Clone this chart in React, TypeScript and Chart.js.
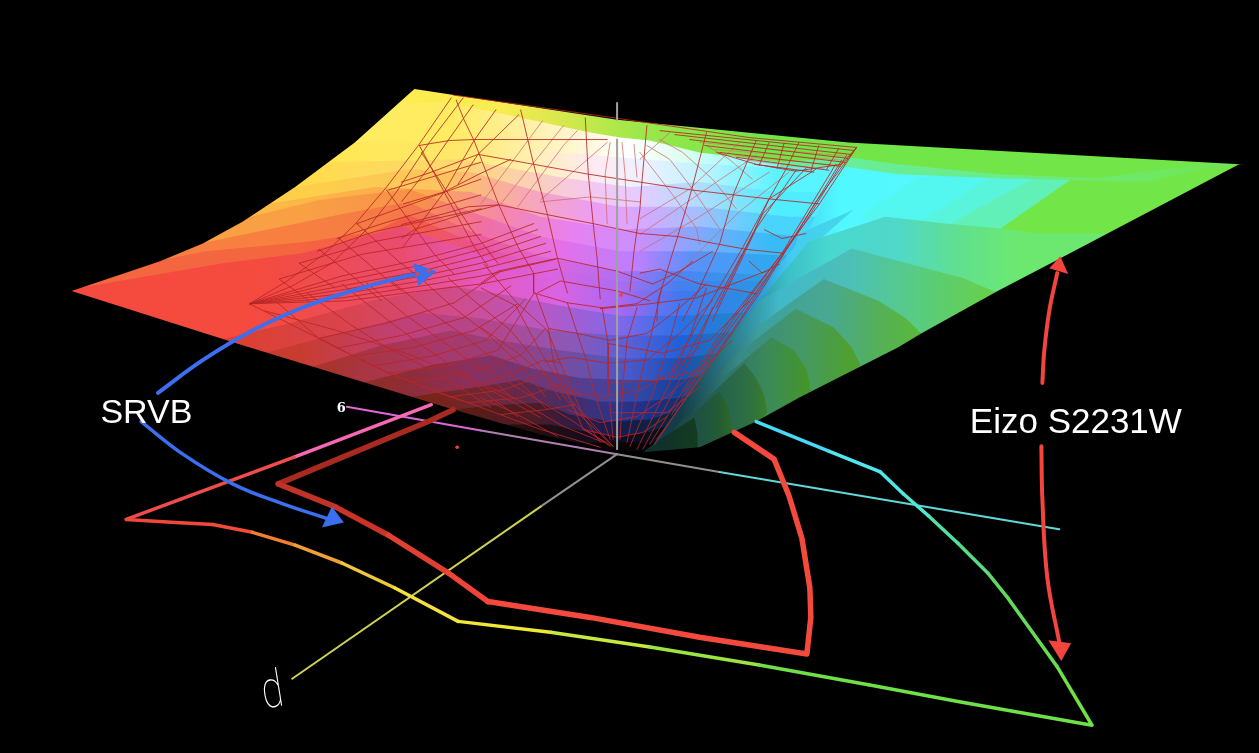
import React, { useEffect, useRef } from "react";
import { Chart, registerables } from "chart.js";

Chart.register(...registerables);

type P = [number, number];
type Tint = [number, string];

// ---- shaded surface of the Eizo S2231W gamut: iso-lightness contours, top to bottom
const contourTops: P[][] = [
  [[0, 0], [1259, 0]],
  [[0, 100], [450, 100], [520, 115], [590, 130], [620, 135], [650, 138], [700, 150], [780, 160], [1259, 160]],
  [[0, 210], [353, 140], [460, 138], [560, 150], [620, 155], [680, 160], [760, 165], [1259, 165]],
  [[0, 215], [327, 160], [460, 157], [560, 175], [630, 185], [700, 180], [780, 190], [1259, 190]],
  [[0, 260], [293, 185], [407, 167], [470, 170], [540, 190], [620, 205], [700, 205], [790, 215], [1259, 215]],
  [[0, 270], [260, 203], [373, 185], [470, 190], [540, 215], [620, 228], [700, 225], [800, 235], [1259, 235]],
  [[0, 270], [240, 217], [317, 198], [407, 187], [470, 210], [540, 235], [620, 250], [700, 250], [800, 255], [1259, 255]],
  [[0, 280], [207, 240], [337, 213], [407, 200], [470, 230], [540, 255], [620, 270], [690, 270], [790, 275], [1259, 275]],
  [[0, 290], [203, 250], [307, 240], [373, 230], [407, 213], [470, 240], [540, 265], [620, 280], [690, 280], [790, 280], [1259, 280]],
  [[0, 300], [220, 262], [300, 252], [400, 225], [470, 250], [540, 275], [620, 290], [690, 290], [790, 290], [1259, 290]],
  [[0, 350], [215, 340], [290, 322], [370, 300], [450, 285], [510, 295], [560, 305], [620, 315], [680, 315], [780, 310], [1259, 310]],
  [[0, 365], [265, 352], [340, 332], [420, 312], [480, 318], [550, 330], [620, 335], [680, 335], [760, 330], [1259, 330]],
  [[0, 380], [310, 367], [380, 345], [450, 330], [500, 340], [560, 350], [620, 358], [680, 358], [740, 350], [1259, 350]],
  [[0, 400], [360, 383], [430, 365], [490, 355], [530, 368], [580, 378], [630, 380], [680, 380], [725, 370], [1259, 370]],
  [[0, 410], [410, 397], [470, 388], [520, 380], [555, 392], [600, 402], [640, 402], [680, 398], [710, 390], [1259, 390]],
  [[0, 420], [450, 410], [500, 405], [540, 403], [570, 415], [610, 422], [650, 420], [680, 410], [1259, 410]],
  [[0, 440], [500, 425], [550, 425], [590, 433], [620, 437], [650, 432], [670, 425], [1259, 425]],
  [[0, 460], [570, 445], [600, 443], [640, 443], [1259, 443]],
];

const contourTints: Tint[][] = [
  [[400, "#ffec50"], [500, "#f8ec50"], [560, "#d8e84c"], [640, "#9ce84a"], [760, "#72e548"]],
  [[450, "#ffec60"], [520, "#fff0a0"], [590, "#fff8e0"], [625, "#ffffff"], [680, "#e0fff0"], [740, "#a0fcff"], [800, "#58f8ff"]],
  [[300, "#ffe84e"], [460, "#ffe86a"], [530, "#fff0b0"], [590, "#ffeaf0"], [640, "#f0f0ff"], [700, "#c0f4ff"], [780, "#58f4ff"]],
  [[300, "#fedc4a"], [460, "#fed870"], [530, "#fbd0b8"], [590, "#f4c8f0"], [640, "#e4ccff"], [700, "#b0dcff"], [780, "#50ecff"]],
  [[300, "#fdcf48"], [450, "#fcc460"], [520, "#f8a8b0"], [590, "#ec9ef0"], [640, "#d8a8ff"], [700, "#a0c0ff"], [770, "#48d4fc"]],
  [[300, "#fbb846"], [430, "#fba850"], [500, "#f488a8"], [570, "#e880f0"], [640, "#c890ff"], [700, "#80a8ff"], [770, "#38bcf8"]],
  [[300, "#f9a044"], [420, "#f89048"], [480, "#f070a0"], [560, "#e470e8"], [640, "#b880ff"], [690, "#5c90fc"], [770, "#30a8f0"]],
  [[300, "#f78040"], [410, "#f47848"], [475, "#ec5c98"], [550, "#de64dc"], [620, "#b070f4"], [680, "#4c84f4"], [760, "#2c9ce8"]],
  [[280, "#f4663f"], [420, "#f25a4a"], [480, "#e8509c"], [545, "#dc64e0"], [620, "#ac6cf0"], [680, "#4480f0"], [760, "#2c94e4"]],
  [[250, "#f54a3e"], [300, "#f04c4a"], [400, "#ea4c70"], [480, "#e458c0"], [560, "#d864e4"], [620, "#a868f0"], [680, "#4078f0"], [760, "#2890e0"]],
  [[250, "#dc4034"], [350, "#d84450"], [450, "#d04c88"], [540, "#b858c4"], [620, "#8068e8"], [680, "#2870e8"], [750, "#2088c8"]],
  [[300, "#c83c30"], [400, "#c04078"], [500, "#b04890"], [570, "#8c58b8"], [630, "#5860d8"], [680, "#2060d8"], [740, "#2078b0"]],
  [[330, "#a83430"], [430, "#a83868"], [510, "#984080"], [580, "#6c50a8"], [630, "#4858c8"], [680, "#1850b8"], [720, "#186c98"]],
  [[380, "#902c28"], [470, "#883060"], [540, "#6c3878"], [600, "#4c4098"], [640, "#3048a8"], [680, "#144098"], [710, "#145c80"]],
  [[430, "#782418"], [500, "#6c2840"], [560, "#4c2c60"], [610, "#303488"], [650, "#1c3088"], [690, "#103060"]],
  [[460, "#5c1c14"], [530, "#4c1c28"], [580, "#2c1c48"], [620, "#141c50"], [660, "#0c2440"]],
  [[500, "#300e0a"], [560, "#1c0e18"], [610, "#0c0c20"], [660, "#081020"]],
  [[570, "#0c0606"], [640, "#040408"]],
];

// ---- the cyan / green wing, drawn as facets over the contours
const wingFacets: P[][] = [
  [[860, 147], [1259, 160], [1259, 600], [643, 460], [673, 417], [700, 377], [733, 333], [783, 260], [807, 233], [830, 190]],
  [[920, 175], [860, 215], [1100, 300], [1259, 160]],
  [[992, 175], [920, 222], [1100, 300], [1259, 160]],
  [[1038, 175], [947, 225], [1100, 300], [1259, 160]],
  [[1080, 173], [1003, 227], [1100, 300], [1259, 160]],
  [[800, 130], [1259, 155], [1150, 180], [1000, 176], [900, 172], [850, 165], [780, 165]],
  [[800, 130], [1259, 155], [1100, 176], [1000, 172], [900, 162], [850, 155], [780, 160]],
  [[800, 232], [855, 208], [790, 265]],
  [[770, 290], [850, 217], [800, 262], [745, 335]],
  [[745, 330], [830, 245], [775, 298], [720, 372]],
  [[810, 240], [887, 215], [950, 222], [1003, 227], [1040, 232], [1110, 232], [1000, 400], [700, 500], [643, 460], [733, 333]],
  [[760, 300], [853, 247], [920, 265], [965, 277], [1000, 292], [950, 400], [700, 500], [650, 460], [710, 365]],
  [[745, 335], [825, 278], [880, 300], [908, 318], [923, 333], [700, 500], [650, 460]],
  [[732, 358], [797, 308], [835, 327], [853, 347], [862, 365], [700, 500], [650, 460]],
  [[715, 385], [772, 337], [795, 350], [808, 370], [812, 392], [700, 500], [650, 460]],
  [[700, 405], [745, 363], [757, 378], [765, 395], [768, 413], [700, 500], [650, 460]],
  [[685, 420], [720, 392], [728, 405], [733, 433], [700, 500], [650, 460]],
  [[660, 440], [695, 418], [698, 435], [698, 450], [650, 470], [643, 453]],
];

const wingTints: Tint[][] = [
  [[643, "#101c28"], [680, "#184868"], [720, "#1c70a8"], [760, "#2c98d8"], [800, "#48d8f8"], [840, "#50f8ff"], [900, "#54f8ff"]],
  [[860, "#54f6f0"], [1259, "#54f6f0"]],
  [[900, "#58f4dc"], [1259, "#58f4dc"]],
  [[940, "#60f0b8"], [1259, "#60f0b8"]],
  [[1000, "#72e548"], [1259, "#72e548"]],
  [[780, "#66eea0"], [1000, "#6aec88"], [1259, "#72e548"]],
  [[780, "#72e548"], [1259, "#72e548"]],
  [[790, "#44ccf0"], [855, "#44d8e8"]],
  [[745, "#3cb4d8"], [850, "#40c8d8"]],
  [[720, "#3498b8"], [830, "#40b4c4"]],
  [[680, "#103c50"], [740, "#2a8090"], [790, "#3cc0c8"], [830, "#48d8d0"], [900, "#50d8c8"], [960, "#60e090"], [1020, "#6ce870"]],
  [[680, "#143c48"], [730, "#2a7c8c"], [780, "#40b8c8"], [850, "#4cc0b8"], [920, "#58cc80"], [990, "#66d04c"]],
  [[680, "#143c44"], [720, "#286c7c"], [760, "#3ca0a0"], [830, "#48a890"], [880, "#54b058"], [920, "#5ab83a"]],
  [[690, "#1a4848"], [740, "#388a88"], [800, "#449868"], [850, "#4ea030"]],
  [[680, "#163e44"], [720, "#2a7070"], [770, "#3c8a58"], [810, "#449628"]],
  [[670, "#123438"], [700, "#205858"], [750, "#2e7040"], [770, "#3a8028"]],
  [[680, "#1a4850"], [720, "#245c34"], [735, "#2e6c24"]],
  [[660, "#10302c"], [695, "#143c20"]],
];

// ---- what lies outside the surface
const maskAbove: P[] = [[0, 0], [1259, 0], [1259, 164], [1243, 162], [850, 140], [617, 117], [413, 86], [353, 140], [293, 185], [240, 220], [200, 242], [157, 260], [68, 290], [0, 290]];
const maskBelow: P[] = [[0, 290], [68, 290], [240, 345], [453, 410], [540, 435], [607, 450], [643, 453], [700, 448], [757, 422], [800, 398], [900, 347], [923, 333], [1000, 290], [1067, 255], [1243, 162], [1259, 162], [1259, 753], [0, 753]];

// ---- sRGB wireframe, strong lines
const wireLines: P[][] = [
  [[452, 92], [600, 113], [750, 135], [858, 145]],
  [[450, 95], [417, 143], [385, 185], [353, 223], [323, 252], [285, 280], [247, 303]],
  [[462, 95], [428, 140], [395, 190], [365, 228], [330, 262], [290, 285], [247, 303]],
  [[455, 97], [463, 117], [473, 138], [498, 203], [517, 245], [533, 272], [533, 292]],
  [[472, 102], [428, 165], [400, 200]],
  [[495, 107], [473, 138], [443, 190], [402, 245]],
  [[518, 112], [477, 152], [457, 182]],
  [[520, 107], [533, 162], [547, 213], [557, 257], [567, 292]],
  [[585, 115], [588, 172], [593, 222], [597, 258], [600, 298]],
  [[418, 143], [443, 190], [473, 245], [487, 265]],
  [[418, 143], [448, 138], [473, 137], [528, 137], [607, 137]],
  [[400, 180], [430, 170], [477, 152], [533, 162], [588, 172], [640, 180], [692, 188], [735, 193], [770, 197], [820, 202]],
  [[402, 202], [443, 190], [478, 172], [510, 157]],
  [[400, 223], [443, 212], [467, 205], [498, 203], [547, 213], [593, 222], [640, 232], [678, 235], [720, 243], [747, 248], [785, 252]],
  [[400, 237], [413, 228], [460, 213], [498, 203]],
  [[387, 188], [480, 160]],
  [[355, 222], [397, 207], [480, 177]],
  [[335, 237], [387, 220], [480, 193]],
  [[315, 250], [373, 230], [480, 207]],
  [[297, 262], [373, 240], [480, 220]],
  [[277, 278], [360, 253], [480, 233]],
  [[355, 222], [397, 260], [420, 278]],
  [[385, 188], [433, 253], [453, 273]],
  [[420, 150], [470, 227], [497, 262]],
  [[337, 237], [373, 268], [400, 290]],
  [[317, 248], [353, 277], [380, 300]],
  [[297, 262], [333, 287]],
  [[277, 278], [307, 300]],
  [[247, 303], [340, 275], [420, 258], [480, 242], [533, 222]],
  [[247, 303], [340, 280], [420, 264], [480, 248], [537, 228]],
  [[247, 303], [340, 285], [420, 270], [480, 255], [540, 235]],
  [[247, 303], [340, 289], [420, 275], [480, 262], [545, 242]],
  [[247, 303], [340, 293], [420, 280], [480, 268], [550, 250]],
  [[247, 303], [340, 297], [420, 285], [480, 275], [555, 258]],
  [[247, 303], [345, 300], [420, 290], [480, 283], [557, 268]],
  [[247, 303], [317, 338], [352, 356], [387, 373], [430, 390], [467, 403], [540, 430], [600, 448]],
  [[262, 310], [335, 330], [410, 355], [480, 385], [540, 418]],
  [[273, 300], [317, 338], [352, 356], [387, 373], [430, 390], [467, 403]],
  [[305, 292], [350, 325], [385, 347], [420, 365], [455, 385], [490, 408]],
  [[340, 283], [387, 320], [423, 347], [457, 370], [493, 400], [517, 417]],
  [[365, 282], [405, 315], [440, 340], [477, 367], [510, 397]],
  [[390, 280], [427, 310], [460, 333], [497, 363], [530, 393], [547, 410]],
  [[420, 278], [450, 305], [485, 332], [520, 365], [545, 397]],
  [[447, 277], [473, 300], [510, 330], [540, 367], [560, 400]],
  [[483, 263], [517, 303], [547, 330], [560, 363], [583, 417], [600, 443]],
  [[317, 338], [383, 323], [453, 302], [500, 270]],
  [[335, 348], [400, 335], [463, 317], [510, 285]],
  [[352, 356], [413, 347], [473, 330], [517, 303]],
  [[370, 366], [430, 356], [485, 340], [525, 298]],
  [[387, 373], [447, 365], [497, 350], [533, 293]],
  [[408, 382], [467, 374], [520, 355], [545, 328]],
  [[430, 390], [487, 383], [543, 360], [560, 363]],
  [[448, 397], [503, 390], [550, 372], [570, 378]],
  [[467, 403], [520, 398], [560, 385], [580, 395]],
  [[500, 415], [545, 410], [575, 405]],
  [[480, 398], [513, 413], [557, 437]],
  [[480, 383], [517, 400], [563, 427], [603, 443]],
  [[480, 365], [520, 390], [570, 420], [610, 447]],
  [[480, 327], [513, 350], [547, 377], [577, 413], [613, 447]],
  [[480, 287], [515, 305], [543, 357], [570, 400], [613, 447]],
  [[480, 282], [497, 270], [557, 257], [617, 270], [653, 283], [680, 270], [713, 250]],
  [[537, 292], [560, 280], [617, 290], [650, 300]],
  [[533, 292], [567, 302], [602, 307], [637, 303], [667, 283], [693, 260]],
  [[548, 328], [577, 333], [610, 340], [647, 333], [680, 307], [707, 283]],
  [[545, 362], [570, 357], [607, 363], [647, 360], [680, 333], [713, 300]],
  [[550, 383], [567, 393], [603, 397], [640, 390], [670, 373], [700, 347]],
  [[567, 410], [600, 423], [637, 417], [667, 397], [693, 373]],
  [[583, 430], [617, 438], [643, 433], [667, 417]],
  [[535, 292], [548, 328], [553, 363], [567, 393], [583, 430], [613, 447]],
  [[567, 302], [577, 333], [587, 363], [595, 397], [610, 440]],
  [[602, 307], [608, 343], [608, 383], [613, 440]],
  [[637, 307], [627, 340], [623, 383], [620, 440]],
  [[662, 287], [653, 327], [640, 380], [627, 443]],
  [[680, 303], [670, 340], [653, 393], [630, 447]],
  [[707, 287], [690, 337], [670, 383], [637, 450]],
  [[713, 307], [697, 347], [680, 380], [643, 450]],
  [[657, 440], [700, 380], [760, 293], [817, 200], [858, 145]],
  [[858, 145], [820, 203], [783, 252], [730, 320], [690, 380], [650, 445]],
  [[848, 153], [805, 223], [767, 277], [715, 350], [672, 415]],
  [[843, 158], [797, 233], [740, 320], [695, 385], [655, 445]],
  [[837, 162], [783, 252], [733, 320], [685, 392]],
  [[817, 167], [770, 197], [743, 247], [700, 320], [672, 370]],
  [[800, 140], [787, 167], [770, 197], [755, 230], [707, 320], [675, 380]],
  [[797, 168], [757, 227], [713, 320]],
  [[808, 165], [763, 213], [717, 307]],
  [[757, 138], [735, 190], [720, 243], [700, 287], [683, 320]],
  [[707, 130], [692, 188], [678, 235], [658, 300], [657, 320]],
  [[647, 123], [642, 180], [640, 207], [634, 250], [630, 290]],
  [[640, 272], [660, 268], [700, 283], [743, 290], [757, 293]],
  [[765, 228], [783, 237], [807, 232]],
  [[750, 260], [763, 272], [780, 263]],
  [[600, 308], [650, 303], [697, 297], [767, 270]],
  [[607, 343], [663, 353], [710, 340], [750, 300]],
  [[610, 383], [660, 380], [700, 370], [733, 340]],
  [[613, 413], [667, 413], [700, 387]],
  [[660, 128], [855, 148]],
  [[675, 132], [852, 152]],
  [[690, 137], [849, 156]],
  [[705, 143], [846, 160]],
  [[720, 150], [842, 164]],
  [[737, 155], [830, 168]],
  [[755, 162], [815, 170]],
  [[717, 150], [757, 162], [797, 169], [843, 162], [858, 145]],
  [[770, 140], [760, 163]],
  [[785, 141], [778, 166]],
  [[820, 143], [812, 169]],
  [[840, 146], [828, 167]],
];

// ---- sRGB wireframe, pale lines around the white point
const wirePale: P[][] = [
  [[542, 118], [528, 137], [480, 202]],
  [[563, 123], [547, 143], [500, 202]],
  [[577, 128], [563, 143], [517, 205]],
  [[607, 140], [540, 198]],
  [[610, 140], [605, 172], [607, 222]],
  [[622, 140], [625, 172], [627, 222]],
  [[634, 142], [637, 175]],
  [[540, 200], [590, 195], [640, 200]],
  [[700, 243], [697, 227], [673, 193], [650, 163], [640, 150]],
  [[720, 227], [693, 187], [670, 157], [647, 143]],
  [[737, 207], [713, 177], [683, 150], [660, 137]],
  [[753, 177], [730, 157], [707, 143]],
  [[640, 157], [670, 130]],
  [[640, 217], [690, 187], [740, 140]],
  [[640, 233], [717, 180], [757, 153]],
  [[640, 250], [700, 215], [770, 170]],
  [[680, 270], [740, 210], [790, 170]],
];

const wireTan: P[][] = [
  [[700, 140], [850, 154]],
  [[715, 147], [845, 158]],
  [[735, 153], [838, 163]],
  [[750, 158], [825, 167]],
  [[768, 164], [810, 169]],
];

// ---- projected gamut outlines on the floor
const eizoOutline: P[] = [[430, 405], [292, 458], [123, 521], [173, 524], [210, 526], [250, 534], [293, 547], [340, 565], [393, 590], [457, 624], [550, 635], [650, 650], [760, 668], [870, 688], [960, 705], [1095, 729], [1060, 670], [1035, 635], [1010, 600], [990, 575], [960, 545], [930, 517], [905, 495], [882, 473], [830, 452], [757, 422]];
const eizoColours = ["#f868b4", "#f04c4c", "#f0483c", "#f0483c", "#f04c38", "#f08030", "#f0a038", "#f0c83c", "#f4e040", "#f0e838", "#c8e840", "#9ce444", "#70e048", "#6ee048", "#6ee048", "#6ee048", "#68dc50", "#64da58", "#60d860", "#58dc80", "#50e0a0", "#50e8d0", "#50e8e4", "#50e8f0", "#48d8f8", "#40c8f8"];
const srgbOutline: P[] = [[452, 410], [427, 422], [276, 485], [333, 508], [387, 537], [447, 575], [487, 604], [590, 620], [700, 640], [808, 657], [812, 620], [811, 590], [803, 540], [790, 497], [775, 460], [735, 433]];
const srgbColours = ["#a82a20", "#a82a20", "#c03428", "#c83428", "#e04030", "#f04438", "#f44a3e", "#f44a3e", "#f44a3e", "#f44a3e", "#f44a3e", "#f44a3e", "#f44a3e", "#f44a3e", "#f44a3e", "#f44a3e"];

// ---- axes
const axisA: P[] = [[345, 407], [480, 431], [617, 455]];
const axisAColours = ["#e068d8", "#b080b0", "#a0a0a0"];
const axisB: P[] = [[617, 455], [720, 473], [1062, 531]];
const axisBColours = ["#909090", "#60d8d8", "#50e8e8"];
const axisD: P[] = [[617, 455], [540, 508], [290, 682]];
const axisDColours = ["#909090", "#d0d050", "#e8e040"];
const axisVUpper: P[] = [[617, 100], [617, 117]];
const axisVLower: P[] = [[617, 137], [617, 450]];

// ---- annotations
const blueArrowUp: P[] = [[155, 393], [200, 360], [250, 330], [300, 307], [350, 290], [400, 276], [418, 273]];
const blueHeadUp: P[] = [[412, 262], [435, 270], [417, 285]];
const blueArrowDown: P[] = [[138, 422], [180, 455], [230, 485], [280, 505], [325, 520]];
const blueHeadDown: P[] = [[330, 508], [342, 524], [320, 529]];
const redArrowUp: P[] = [[1045, 383], [1047, 350], [1052, 310], [1060, 272]];
const redHeadUp: P[] = [[1063, 255], [1071, 273], [1052, 267]];
const redArrowDown: P[] = [[1044, 447], [1045, 500], [1050, 580], [1062, 645]];
const redHeadDown: P[] = [[1051, 643], [1074, 646], [1064, 664]];
const strayDots: P[] = [[456, 448], [416, 273], [427, 270], [621, 294]];

const labelTexts = ["SRVB", "Eizo S2231W", "6", "d"];
const labelSpots: P[] = [[97, 423], [972, 434], [335, 412], [262, 712]];
const labelFonts = ["34px 'Liberation Sans'", "35px 'Liberation Sans'", "bold 13px 'DejaVu Serif'", "100 52px Roboto"];
const labelSquash = [1, 1, 1, 0.75];
const labelTurn = [0, 0, 0, -0.16];

const xy = (pts: P[]) => pts.map(([x, y]) => ({ x, y }));

function tinted(tint: Tint[]) {
  return (c: any) => {
    const sx = c.chart.scales?.x;
    const x0 = sx ? sx.getPixelForValue(0) : NaN;
    const x1 = sx ? sx.getPixelForValue(1259) : NaN;
    if (!Number.isFinite(x0) || !Number.isFinite(x1)) return tint[0][1];
    const g = c.chart.ctx.createLinearGradient(x0, 0, x1, 0);
    tint.forEach(([x, col]) => g.addColorStop(Math.min(1, Math.max(0, x / 1259)), col));
    return g;
  };
}

function polygon(pts: P[], background: any) {
  return {
    data: xy(pts),
    showLine: true,
    fill: "shape",
    backgroundColor: background,
    borderWidth: 0,
    borderColor: "transparent",
    pointRadius: 0,
  };
}

function stroke(pts: P[], colour: string, width: number, tension = 0) {
  return { data: xy(pts), showLine: true, fill: false, borderColor: colour, borderWidth: width, pointRadius: 0, borderCapStyle: "round", borderJoinStyle: "round", tension };
}

function ramp(pts: P[], colours: string[], width: number) {
  return {
    ...stroke(pts, colours[0], width),
    segment: { borderColor: (c: any) => colours[c.p0DataIndex] },
  };
}

const labelPlugin = {
  id: "labels",
  afterDatasetsDraw(chart: any) {
    const { ctx, scales } = chart;
    labelTexts.forEach((t, i) => {
      ctx.save();
      ctx.fillStyle = "#ffffff";
      ctx.textBaseline = "alphabetic";
      ctx.font = labelFonts[i];
      ctx.translate(scales.x.getPixelForValue(labelSpots[i][0]), scales.y.getPixelForValue(labelSpots[i][1]));
      ctx.rotate(labelTurn[i]);
      ctx.scale(labelSquash[i], 1);
      ctx.fillText(t, 0, 0);
      ctx.restore();
    });
  },
};

export default function App() {
  const ref = useRef<HTMLCanvasElement>(null);
  useEffect(() => {
    document.body.style.margin = "0";
    document.body.style.background = "#000";
    const paintOrder: any[] = [
      ...contourTops.map((top, i) => {
        const outline: P[] = [...top, [1259, 753], [0, 753]];
        return polygon(outline, tinted(contourTints[i]));
      }),
      ...wingFacets.map((f, i) => polygon(f, tinted(wingTints[i]))),
      polygon(maskAbove, "#000000"),
      polygon(maskBelow, "#000000"),
      ramp(axisA, axisAColours, 2),
      ramp(axisB, axisBColours, 2),
      ramp(axisD, axisDColours, 2),
      ramp(eizoOutline, eizoColours, 3.5),
      ramp(srgbOutline, srgbColours, 5.5),
      ...wirePale.map((w) => stroke(w, "rgba(205,105,105,0.75)", 1)),
      ...wireTan.map((w) => stroke(w, "rgba(190,150,90,0.85)", 1)),
      ...wireLines.map((w) => stroke(w, "rgba(185,38,38,0.85)", 1)),
      stroke(axisVUpper, "#a0a0a0", 2),
      stroke(axisVLower, "#a0a0a0", 2),
      stroke(blueArrowUp, "#3a6ff0", 4, 0.4),
      polygon(blueHeadUp, "#3a6ff0"),
      stroke(blueArrowDown, "#3a6ff0", 3.5, 0.4),
      polygon(blueHeadDown, "#3a6ff0"),
      stroke(redArrowUp, "#f2453d", 4, 0.4),
      polygon(redHeadUp, "#f2453d"),
      stroke(redArrowDown, "#f2453d", 4, 0.4),
      polygon(redHeadDown, "#f2453d"),
      { data: xy(strayDots), showLine: false, pointRadius: 1.8, pointBackgroundColor: "#f0403c", pointBorderWidth: 0 },
    ];
    const chart = new Chart(ref.current as HTMLCanvasElement, {
      type: "scatter",
      data: { datasets: paintOrder.reverse() },
      options: {
        animation: false,
        responsive: false,
        events: [],
        layout: { padding: 0 },
        scales: {
          x: { type: "linear", min: 0, max: 1259, display: false },
          y: { type: "linear", min: 0, max: 753, reverse: true, display: false },
        },
        plugins: { legend: { display: false }, tooltip: { enabled: false } },
      },
      plugins: [labelPlugin],
    } as any);
    return () => chart.destroy();
  }, []);
  return (
    <div style={{ width: 1259, height: 753, background: "#000" }}>
      <canvas ref={ref} width={1259} height={753} style={{ display: "block" }} />
    </div>
  );
}
